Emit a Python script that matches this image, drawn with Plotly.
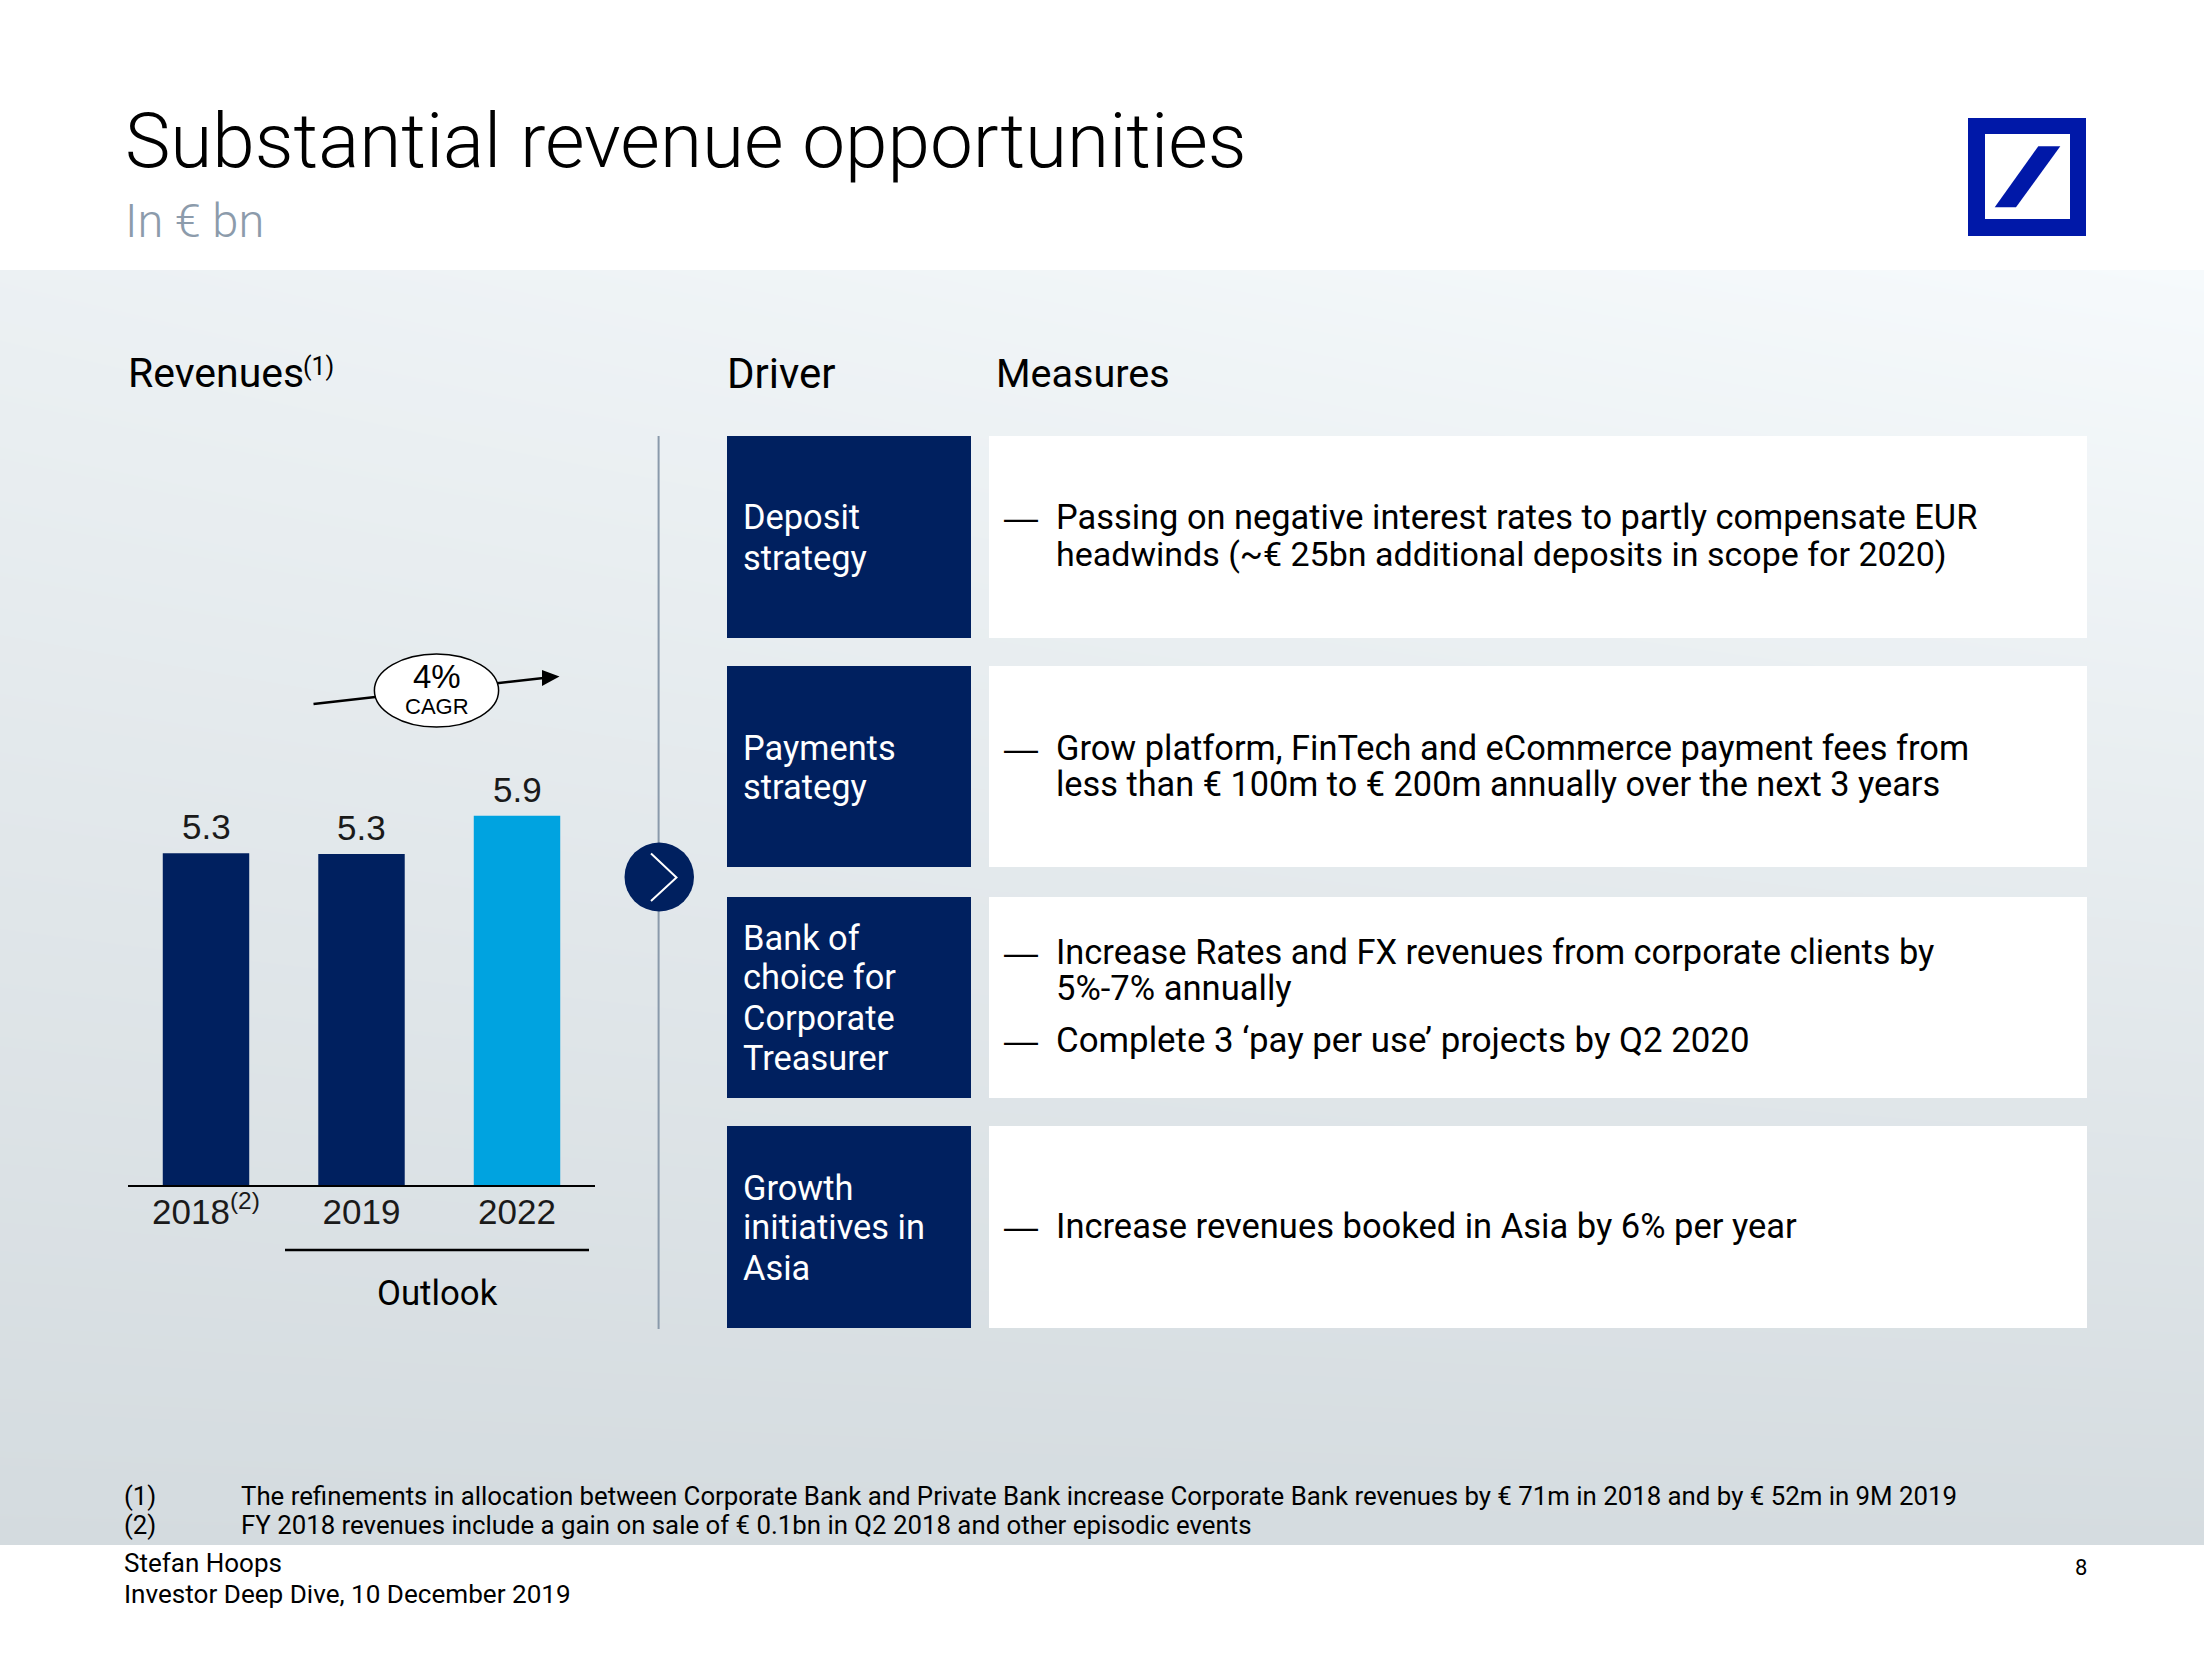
import plotly.graph_objects as go

W, H = 2204, 1658
NAVY = "#00205F"
CYAN = "#00A3E0"
LOGO = "#0018A8"
BODY = "Roboto"
CHART = "Liberation Sans"

# ---- data ----
years = ["2018<sup>(2)</sup>", "2019", "2022"]
revenues = [5.3, 5.29, 5.9]
bar_colors = [NAVY, NAVY, CYAN]
cagr = "4%"
cagr_label = "CAGR"
outlook = "Outlook"

title = "Substantial revenue opportunities"
subtitle = "In € bn"
col_heads = ["Revenues", "Driver", "Measures"]
revenues_note = "(1)"

drivers = [
    ["Deposit", "strategy"],
    ["Payments", "strategy"],
    ["Bank of", "choice for", "Corporate", "Treasurer"],
    ["Growth", "initiatives in", "Asia"],
]
measures = [
    [["Passing on negative interest rates to partly compensate EUR",
      "headwinds (~€ 25bn additional deposits in scope for 2020)"]],
    [["Grow platform, FinTech and eCommerce payment fees from",
      "less than € 100m to € 200m annually over the next 3 years"]],
    [["Increase Rates and FX revenues from corporate clients by", "5%-7% annually"],
     ["Complete 3 ‘pay per use’ projects by Q2 2020"]],
    [["Increase revenues booked in Asia by 6% per year"]],
]
footnote_marks = ["(1)", "(2)"]
footnotes = [
    "The refinements in allocation between Corporate Bank and Private Bank increase Corporate Bank revenues by € 71m in 2018 and by € 52m in 9M 2019",
    "FY 2018 revenues include a gain on sale of € 0.1bn in Q2 2018 and other episodic events",
]
footer = ["Stefan Hoops", "Investor Deep Dive, 10 December 2019"]
page_no = "8"

# backdrop shade at the corners of the grey panel (0 = lightest, 1 = darkest)
panel_x = [0, W]
panel_y = [270, 1545]
panel_shade = [[0.30, 0.0], [1.0, 0.97]]


def px(x):
    return x / W


def py(y):
    return 1 - y / H


fig = go.Figure()

fig.add_trace(go.Heatmap(
    x=panel_x, y=panel_y, z=panel_shade, zmin=0, zmax=1, zsmooth="best",
    colorscale=[[0, "#F6FAFC"], [1, "#D4DBDF"]], showscale=False, hoverinfo="skip",
    xaxis="x", yaxis="y",
))

fig.add_trace(go.Bar(
    x=[0, 1, 2], y=revenues, width=0.556, marker=dict(color=bar_colors, line_width=0),
    hoverinfo="skip", xaxis="x2", yaxis="y2",
))

shapes = []


def rect(x0, y0, x1, y1, color):
    shapes.append(dict(type="rect", xref="paper", yref="paper", x0=px(x0), x1=px(x1),
                       y0=py(y0), y1=py(y1), fillcolor=color, line_width=0))


def line(x0, y0, x1, y1, color, width):
    shapes.append(dict(type="line", xref="paper", yref="paper", x0=px(x0), x1=px(x1),
                       y0=py(y0), y1=py(y1), line=dict(color=color, width=width)))


def path(points, color, fill=True, width=0):
    d = "M " + " L ".join(f"{px(a):.5f},{py(b):.5f}" for a, b in points)
    if fill:
        d += " Z"
    shapes.append(dict(type="path", xref="paper", yref="paper", path=d,
                       fillcolor=color if fill else None,
                       line=dict(color=color, width=width)))


def ellipse(x0, y0, x1, y1, fill, edge, width):
    shapes.append(dict(type="circle", xref="paper", yref="paper", x0=px(x0), x1=px(x1),
                       y0=py(y0), y1=py(y1), fillcolor=fill,
                       line=dict(color=edge, width=width)))


# masks above and below the panel
rect(0, 0, W, 270, "white")
rect(0, 1545, W, H, "white")

# logo
rect(1968, 118, 2086, 236, LOGO)
rect(1985, 134, 2070, 219, "white")
path([(2038.3, 146.3), (2060.3, 146.3), (2016, 207.3), (1994.7, 207.3)], LOGO)

# driver and measure boxes
box_rows = [(436, 638), (666, 867), (897, 1098), (1126, 1328)]
for top, bot in box_rows:
    rect(727, top, 971, bot, NAVY)
    rect(989, top, 2087, bot, "white")

# divider with chevron
line(658.6, 436, 658.6, 1329, "#8A9AAB", 2)
ellipse(624.5, 842.5, 694, 911.5, NAVY, NAVY, 0)
path([(651, 853.5), (676.5, 877.6), (651, 901)], "white", fill=False, width=2)

# CAGR arrow
line(313.5, 704, 548, 677.5, "black", 2.5)
path([(559.5, 676.5), (542, 670), (542, 686)], "black")
ellipse(374.4, 654, 498.6, 727, "white", "black", 1.5)

# outlook bracket
line(285, 1250, 589, 1250, "black", 2.5)

ann = []


def text(x, y, s, size, color="black", family=BODY, anchor="left", weight=None):
    f = dict(family=family, size=size, color=color)
    if weight:
        f["weight"] = weight
    ann.append(dict(xref="paper", yref="paper", x=px(x), y=py(y), text=s, showarrow=False,
                    xanchor=anchor, yanchor="middle", font=f, borderpad=0, borderwidth=0))


text(125, 141, title, 76.5, weight=300)
text(125, 220, subtitle, 47, color="#8C9BAB", weight=300)
text(128, 373, col_heads[0], 41)
text(303, 366, revenues_note, 25)
text(727, 373.5, col_heads[1], 42)
text(996, 373.5, col_heads[2], 39.6)

driver_ys = [[517, 558], [748, 787], [937.5, 977, 1018, 1058], [1188, 1227, 1268]]
for lines, ys in zip(drivers, driver_ys):
    for s, y in zip(lines, ys):
        text(743, y, s, 34.4, color="white")

measure_ys = [[[517, 554]], [[748, 784]], [[952, 988], [1040]], [[1226]]]
measure_sizes = [[[34.4, 34.0]], [[34.4, 34.3]], [[34.4, 34.6], [34.85]], [[34.5]]]
for groups, yss, sss in zip(measures, measure_ys, measure_sizes):
    for lines, ys, ss in zip(groups, yss, sss):
        text(1004, ys[0], "—", 34, family=CHART)
        for s, y, z in zip(lines, ys, ss):
            text(1056, y, s, z)

text(436.5, 676, cagr, 33, family=CHART, anchor="center")
text(436.5, 706, cagr_label, 22, family=CHART, anchor="center")
text(437, 1293, outlook, 34.8, anchor="center")

for m, s, y in zip(footnote_marks, footnotes, [1496, 1525]):
    text(124, y, m, 25.8)
    text(241, y, s, 25.8)
text(124, 1563, footer[0], 26)
text(124, 1594, footer[1], 26.1)
text(2087, 1567, page_no, 22, anchor="right")

# value labels sit on the bar tops through the chart's own scales
for i, v in enumerate(revenues):
    ann.append(dict(xref="x2", yref="y2", x=i, y=v, text=f"{v:.1f}", showarrow=False,
                    xanchor="center", yanchor="bottom", yshift=6, borderpad=0,
                    font=dict(family=CHART, size=35, color="#1A1A1A")))

fig.update_layout(
    width=W, height=H, margin=dict(l=0, r=0, t=0, b=0), showlegend=False,
    paper_bgcolor="white", plot_bgcolor="rgba(0,0,0,0)", shapes=shapes, annotations=ann,
    xaxis=dict(domain=[0, 1], range=panel_x, visible=False),
    yaxis=dict(domain=[0, 1], range=[H, 0], visible=False),
    xaxis2=dict(domain=[px(128), px(595)], range=[-0.5016, 2.5016], anchor="y2",
                tickvals=[0, 1, 2], ticktext=years, ticks="", showgrid=False, zeroline=False,
                showline=True, linecolor="black", linewidth=2, ticklabelstandoff=-5,
                tickfont=dict(family=CHART, size=35, color="#1A1A1A")),
    yaxis2=dict(domain=[py(1185), py(700)], range=[0, 7.75], anchor="x2", visible=False),
)

fig.write_html("out.html", config={"displayModeBar": False},
               post_script="document.body.style.margin='0';document.documentElement.style.overflow='hidden';")
